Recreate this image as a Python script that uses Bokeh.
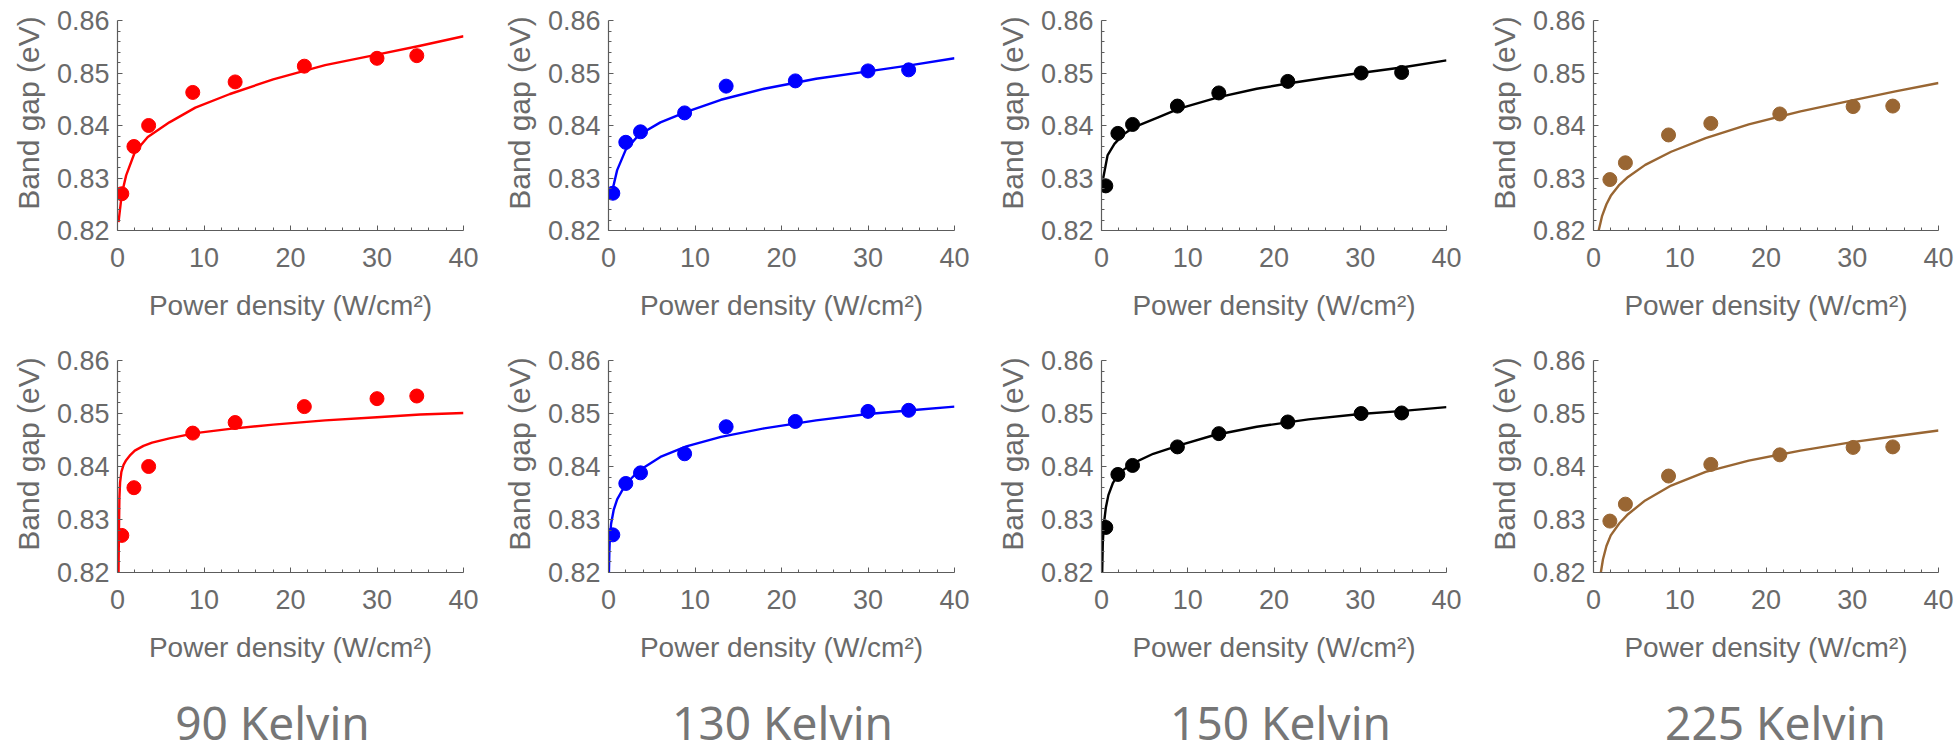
from bokeh.plotting import figure
from bokeh.layouts import column, row
from bokeh.models import FixedTicker, Range1d
from bokeh.embed import file_html
from bokeh.resources import INLINE
from bokeh.core.properties import value

# ---------------- data ----------------
temps = ["90 Kelvin", "130 Kelvin", "150 Kelvin", "225 Kelvin"]
colors = ["#ff0000", "#0000ff", "#000000", "#996633"]

x_90 = [0.5, 1.9, 3.6, 8.7, 13.6, 21.6, 30.0, 34.6]
y_90 = [0.8270, 0.8360, 0.8400, 0.8463, 0.8483, 0.8513, 0.8528, 0.8533]
x_130 = [0.5, 2.0, 3.7, 8.8, 13.6, 21.6, 30.0, 34.7]
y_130 = [0.8271, 0.8368, 0.8388, 0.8424, 0.8475, 0.8485, 0.8504, 0.8506]
x_150 = [0.5, 1.9, 3.6, 8.8, 13.6, 21.6, 30.1, 34.8]
y_150 = [0.8285, 0.8385, 0.8402, 0.8437, 0.8462, 0.8484, 0.8500, 0.8501]
x_225 = [1.9, 3.7, 8.7, 13.6, 21.6, 30.1, 34.7]
y_225 = [0.8297, 0.8329, 0.8382, 0.8404, 0.8422, 0.8436, 0.8437]

# top-row fitted curves
fitA_90_x = [0.12, 0.5, 1, 2, 3.5, 6, 9, 13, 18, 24, 30, 35, 40]
fitA_90_y = [0.8216, 0.8270, 0.8305, 0.8349, 0.8378, 0.8406, 0.8434, 0.8460, 0.8488, 0.8515, 0.8535, 0.8552, 0.8570]
fitA_130_x = [0.2, 0.5, 1, 2, 3.5, 6, 9, 13, 18, 24, 30, 35, 40]
fitA_130_y = [0.8262, 0.8280, 0.8315, 0.8354, 0.8382, 0.8406, 0.8426, 0.8449, 0.8470, 0.8489, 0.8503, 0.8515, 0.8528]
fitA_150_x = [0.2, 0.7, 1.5, 2.6, 3.8, 6.5, 9, 13.6, 18, 21.6, 26, 30, 35, 40]
fitA_150_y = [0.8300, 0.8343, 0.8365, 0.8384, 0.8397, 0.8415, 0.8432, 0.8454, 0.8470, 0.8480, 0.8491, 0.8500, 0.8511, 0.8524]
fitA_225_x = [0.6, 0.8, 1.0, 1.5, 2, 3, 4, 6, 9, 13, 18, 24, 30, 35, 40]
fitA_225_y = [0.8200, 0.8214, 0.8228, 0.8250, 0.8266, 0.8287, 0.8302, 0.8325, 0.8350, 0.8376, 0.8402, 0.8427, 0.8448, 0.8465, 0.8481]

# bottom-row fitted curves
fitB_90_x = [0.12, 0.16, 0.22, 0.3, 0.45, 0.7, 1, 1.5, 2, 3, 4, 6, 9, 13, 18, 24, 30, 35, 40]
fitB_90_y = [0.8200, 0.8270, 0.8340, 0.8370, 0.8390, 0.8403, 0.8412, 0.8422, 0.8430, 0.8439, 0.8445, 0.8453, 0.8463, 0.8471, 0.8479, 0.8487, 0.8493, 0.8498, 0.8501]
fitB_130_x = [0.05, 0.1, 0.15, 0.3, 0.6, 1, 2, 3.5, 6, 9, 13, 18, 24, 30, 35, 40]
fitB_130_y = [0.8200, 0.8240, 0.8262, 0.8292, 0.8318, 0.8338, 0.8367, 0.8392, 0.8418, 0.8438, 0.8456, 0.8472, 0.8487, 0.8499, 0.8506, 0.8513]
fitB_150_x = [0.08, 0.15, 0.27, 0.5, 0.8, 1.3, 2, 3.5, 6, 9, 13, 18, 24, 30, 35, 40]
fitB_150_y = [0.8200, 0.8255, 0.8291, 0.8322, 0.8346, 0.8368, 0.8387, 0.8405, 0.8424, 0.8440, 0.8459, 0.8475, 0.8489, 0.8499, 0.8505, 0.8512]
fitB_225_x = [0.85, 1.1, 1.5, 2, 3, 4, 6, 9, 13, 18, 24, 30, 35, 40]
fitB_225_y = [0.8200, 0.8225, 0.8250, 0.8270, 0.8293, 0.8310, 0.8336, 0.8364, 0.8390, 0.8411, 0.8430, 0.8446, 0.8457, 0.8468]

x_major = [0, 10, 20, 30, 40]
x_minor = [2, 4, 6, 8, 12, 14, 16, 18, 22, 24, 26, 28, 32, 34, 36, 38]
y_major = [0.82, 0.83, 0.84, 0.85, 0.86]
y_minor = [0.822, 0.824, 0.826, 0.828, 0.832, 0.834, 0.836, 0.838,
           0.842, 0.844, 0.846, 0.848, 0.852, 0.854, 0.856, 0.858]

x_title = "Power density (W/cm\u00b2)"
y_title = "Band gap (eV)"

data = [(x_90, y_90), (x_130, y_130), (x_150, y_150), (x_225, y_225)]
fitsA = [(fitA_90_x, fitA_90_y), (fitA_130_x, fitA_130_y), (fitA_150_x, fitA_150_y), (fitA_225_x, fitA_225_y)]
fitsB = [(fitB_90_x, fitB_90_y), (fitB_130_x, fitB_130_y), (fitB_150_x, fitB_150_y), (fitB_225_x, fitB_225_y)]

# ---------------- layout constants ----------------
col_widths = [490, 490, 490, 484]
col_left = [117, 118, 121, 123]
col_right = [27, 26, 24, 16]
AXIS_COL = "#5c5c5c"
TEXT_COL = "#6a6a6a"
FONT = "Liberation Sans"
Y_LABEL_PAD = "\u00a0\u00a0\u00a0"  # nudges the rotated label up, as in the reference


def panel(xd, yd, fx, fy, color, i, height, top, bottom):
    p = figure(width=col_widths[i], height=height,
               x_range=Range1d(0, 40), y_range=Range1d(0.82, 0.86),
               output_backend="svg", toolbar_location=None,
               min_border_left=col_left[i], min_border_right=col_right[i],
               min_border_top=top, min_border_bottom=bottom)
    p.line(fx, fy, line_color=color, line_width=2.4, line_join="round")
    p.scatter(xd, yd, size=14, fill_color=color, line_color=color)
    p.grid.visible = False
    p.outline_line_color = None
    p.background_fill_color = "white"
    p.border_fill_color = "white"

    p.xaxis.ticker = FixedTicker(ticks=x_major, minor_ticks=x_minor)
    p.yaxis.ticker = FixedTicker(ticks=y_major, minor_ticks=y_minor)
    p.xaxis.axis_label = x_title
    p.yaxis.axis_label = Y_LABEL_PAD + y_title
    for ax in (p.xaxis[0], p.yaxis[0]):
        ax.axis_line_color = AXIS_COL
        ax.axis_line_width = 1.2
        ax.major_tick_line_color = AXIS_COL
        ax.minor_tick_line_color = AXIS_COL
        ax.major_tick_in = 5
        ax.major_tick_out = 0
        ax.minor_tick_in = 3
        ax.minor_tick_out = 0
        ax.major_label_text_font = FONT
        ax.major_label_text_font_size = "27px"
        ax.major_label_text_color = TEXT_COL
        ax.axis_label_text_font = FONT
        ax.axis_label_text_font_style = "normal"
        ax.axis_label_text_color = TEXT_COL
    p.xaxis.axis_label_text_font_size = "28px"
    p.yaxis.axis_label_text_font_size = "30px"
    p.xaxis.major_label_standoff = 17
    p.xaxis.axis_label_standoff = 20
    p.yaxis.major_label_standoff = 8
    p.yaxis.axis_label_standoff = 9
    return p


top_row = [panel(*data[i], *fitsA[i], colors[i], i, 340, 20, 110) for i in range(4)]
bot_row = [panel(*data[i], *fitsB[i], colors[i], i, 340, 20, 108) for i in range(4)]

# titles below each column
title_w, title_h = sum(col_widths), 76
title_centers = [272, 782, 1280, 1775]
tf = figure(width=title_w, height=title_h, x_range=Range1d(0, title_w), y_range=Range1d(0, title_h),
            output_backend="svg", toolbar_location=None,
            min_border_left=0, min_border_right=0, min_border_top=0, min_border_bottom=0)
tf.axis.visible = False
tf.grid.visible = False
tf.outline_line_color = None
tf.text(x=title_centers, y=[35] * 4, text=temps, text_align="center", text_baseline="middle",
        text_font=value("Noto Sans"), text_font_size="46px", text_color="#767676")

layout = column(row(*top_row), row(*bot_row), tf)

open("out.html", "w").write(file_html(layout, INLINE))
